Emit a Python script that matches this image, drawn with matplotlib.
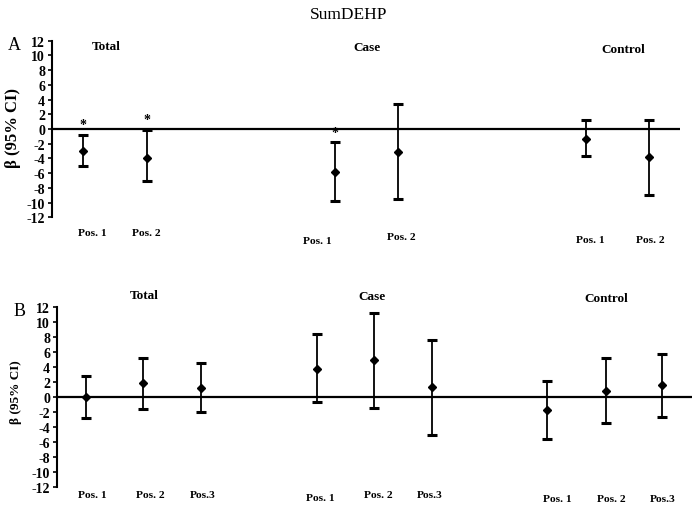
import numpy as np
import matplotlib.pyplot as plt

plt.rcParams['font.family'] = ['Liberation Serif', 'DejaVu Serif']
plt.rcParams['axes.unicode_minus'] = False

# panel A: sumDEHP, two positions per group
a_groups = ['Total', 'Case', 'Control']
a_labels = ['Pos. 1', 'Pos. 2', 'Pos. 1', 'Pos. 2', 'Pos. 1', 'Pos. 2']
a_beta = [-3.0, -4.0, -5.8, -3.1, -1.3, -3.85]
a_low = [-5.1, -7.1, -9.8, -9.5, -3.7, -9.0]
a_high = [-0.8, -0.1, -1.8, 3.35, 1.2, 1.2]
a_sig = [True, True, True, False, False, False]

# panel B: three positions per group
b_groups = ['Total', 'Case', 'Control']
b_labels = ['Pos. 1', 'Pos. 2', 'Pos.3', 'Pos. 1', 'Pos. 2', 'Pos.3', 'Pos. 1', 'Pos. 2', 'Pos.3']
b_beta = [-0.1, 1.8, 1.2, 3.7, 4.9, 1.25, -1.8, 0.8, 1.5]
b_low = [-2.8, -1.6, -2.1, -0.7, -1.5, -5.1, -5.7, -3.5, -2.7]
b_high = [2.7, 5.2, 4.5, 8.3, 11.1, 7.6, 2.1, 5.2, 5.65]

# layout (x positions in pixel-like units)
a_x = [83, 147, 335, 398, 586, 649]
a_grp_x = [106, 367, 623]
a_grp_y = [11.3, 11.1, 10.9]
a_lab_x = [92, 146, 317, 401, 590, 650]
a_lab_y = [-14.1, -14.1, -15.2, -14.6, -15.0, -15.0]

b_x = [86, 143, 201, 317, 374, 432, 547, 606, 662]
b_grp_x = [144, 372, 606]
b_grp_y = [13.6, 13.4, 13.2]
b_lab_x = [92, 150, 203, 320, 378, 430, 557, 611, 663]
b_lab_y = [-13.1, -13.1, -13.1, -13.5, -13.1, -13.1, -13.6, -13.6, -13.6]

W, H = 697, 510
fig = plt.figure(figsize=(W / 100, H / 100), dpi=100)


def panel(rect, xlim, x, beta, low, high, groups, gx, gy, labels, lx, ly, sig=None):
    ax = fig.add_axes(rect)
    beta = np.array(beta)
    err = [beta - np.array(low), np.array(high) - beta]
    ax.axhline(0, color='black', lw=1.6, zorder=1)
    ax.errorbar(x, beta, yerr=err, fmt='D', color='black', ms=4, lw=1.3,
                capsize=3.5, capthick=2.2, zorder=3)
    if sig is not None:
        for xi, hi, s in zip(x, high, sig):
            if s:
                ax.text(xi, hi + 0.5, '*', ha='center', va='bottom', fontsize=10, fontweight='bold')
    for g, xi, yi in zip(groups, gx, gy):
        ax.text(xi, yi, g, ha='center', va='center', fontsize=9.5, fontweight='bold')
    for l, xi, yi in zip(labels, lx, ly):
        ax.text(xi, yi, l, ha='center', va='center', fontsize=8.2, fontweight='bold', clip_on=False)
    ax.set_xlim(*xlim)
    ax.set_ylim(-12, 12)
    ax.set_yticks(np.arange(-12, 13, 2))
    ax.tick_params(axis='y', direction='out', length=3, width=1.2, pad=2)
    for t in ax.get_yticklabels():
        t.set_fontweight('bold')
        t.set_fontsize(10)
    ax.set_xticks([])
    for s in ['top', 'right', 'bottom']:
        ax.spines[s].set_visible(False)
    ax.spines['left'].set_linewidth(1.5)
    ax.patch.set_alpha(0)
    return ax


panel([52 / W, 1 - 218.3 / H, 628 / W, 176.7 / H], (52, 680), a_x, a_beta, a_low, a_high,
      a_groups, a_grp_x, a_grp_y, a_labels, a_lab_x, a_lab_y, sig=a_sig)
panel([57 / W, 1 - 487.7 / H, 635 / W, 180 / H], (57, 692), b_x, b_beta, b_low, b_high,
      b_groups, b_grp_x, b_grp_y, b_labels, b_lab_x, b_lab_y)

fig.text(349 / W, 1 - 15 / H, 'SumDEHP', ha='center', va='center', fontsize=12.5)
fig.text(14 / W, 1 - 45 / H, 'A', ha='center', va='center', fontsize=13)
fig.text(20 / W, 1 - 312 / H, 'B', ha='center', va='center', fontsize=13)
fig.text(13 / W, 1 - 128 / H, 'β (95% CI)', rotation=90, ha='center', va='center',
         fontsize=12, fontweight='bold')
fig.text(16 / W, 1 - 392 / H, 'β (95% CI)', rotation=90, ha='center', va='center',
         fontsize=9.5, fontweight='bold')

fig.savefig('out.png', dpi=100)
